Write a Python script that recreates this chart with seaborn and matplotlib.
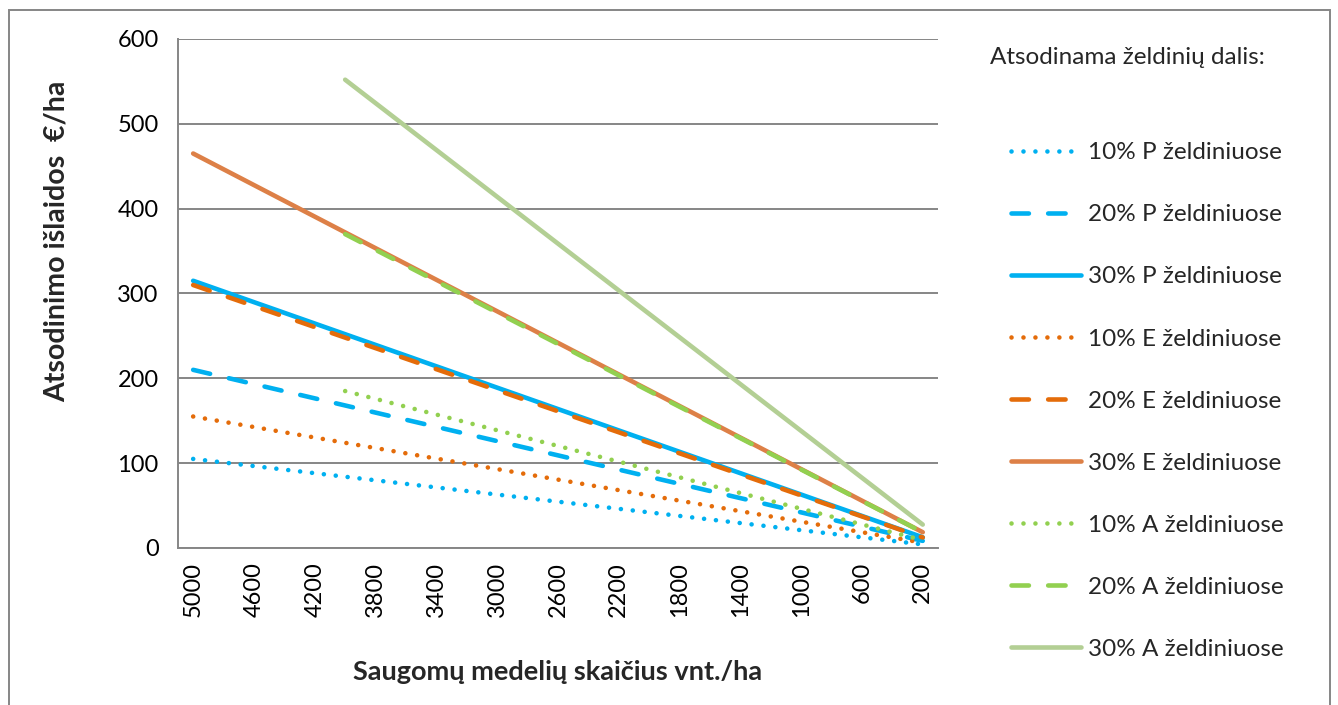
import numpy as np
import pandas as pd
import matplotlib
matplotlib.use("Agg")
import matplotlib.pyplot as plt
from matplotlib.patches import Rectangle
import seaborn as sns

# --- data ---
trees = [5000, 4800, 4600, 4400, 4200, 4000, 3800, 3600, 3400, 3200, 3000, 2800, 2600,
         2400, 2200, 2000, 1800, 1600, 1400, 1200, 1000, 800, 600, 400, 200]
tick_labels = [str(t) for t in trees[::2]]

p10 = [105, 100.8, 96.6, 92.4, 88.2, 84, 79.8, 75.6, 71.4, 67.2, 63, 58.8, 54.6,
       50.4, 46.2, 42, 37.8, 33.6, 29.4, 25.2, 21, 16.8, 12.6, 8.4, 4.2]
p20 = [210, 201.6, 193.2, 184.8, 176.4, 168, 159.6, 151.2, 142.8, 134.4, 126, 117.6, 109.2,
       100.8, 92.4, 84, 75.6, 67.2, 58.8, 50.4, 42, 33.6, 25.2, 16.8, 8.4]
p30 = [315, 302.4, 289.8, 277.2, 264.6, 252, 239.4, 226.8, 214.2, 201.6, 189, 176.4, 163.8,
       151.2, 138.6, 126, 113.4, 100.8, 88.2, 75.6, 63, 50.4, 37.8, 25.2, 12.6]
e10 = [155, 148.8, 142.6, 136.4, 130.2, 124, 117.8, 111.6, 105.4, 99.2, 93, 86.8, 80.6,
       74.4, 68.2, 62, 55.8, 49.6, 43.4, 37.2, 31, 24.8, 18.6, 12.4, 6.2]
e20 = [310, 297.6, 285.2, 272.8, 260.4, 248, 235.6, 223.2, 210.8, 198.4, 186, 173.6, 161.2,
       148.8, 136.4, 124, 111.6, 99.2, 86.8, 74.4, 62, 49.6, 37.2, 24.8, 12.4]
e30 = [465, 446.4, 427.8, 409.2, 390.6, 372, 353.4, 334.8, 316.2, 297.6, 279, 260.4, 241.8,
       223.2, 204.6, 186, 167.4, 148.8, 130.2, 111.6, 93, 74.4, 55.8, 37.2, 18.6]
# A series start at 4000 trees/ha
a10 = [None] * 5 + [185, 175.8, 166.5, 157.3, 148, 138.8, 129.5, 120.3, 111, 101.8,
                    92.5, 83.3, 74, 64.8, 55.5, 46.3, 37, 27.8, 18.5, 9.3]
a20 = [None] * 5 + [370, 351.5, 333, 314.5, 296, 277.5, 259, 240.5, 222, 203.5,
                    185, 166.5, 148, 129.5, 111, 92.5, 74, 55.5, 37, 18.5]
a30 = [None] * 5 + [552, 524.4, 496.8, 469.2, 441.6, 414, 386.4, 358.8, 331.2, 303.6,
                    276, 248.4, 220.8, 193.2, 165.6, 138, 110.4, 82.8, 55.2, 27.6]

series_names = ["10% P želdiniuose", "20% P želdiniuose", "30% P želdiniuose",
                "10% E želdiniuose", "20% E želdiniuose", "30% E želdiniuose",
                "10% A želdiniuose", "20% A želdiniuose", "30% A želdiniuose"]
series_values = [p10, p20, p30, e10, e20, e30, a10, a20, a30]
series_colors = ["#00B0F0", "#00B0F0", "#00B0F0",
                 "#E46C0A", "#E46C0A", "#DD8047",
                 "#92D050", "#92D050", "#B3CF94"]

# --- style ---
sns.set_style("white")
plt.rcParams['font.family'] = ['Lato', 'DejaVu Sans']

dotted = (0, (0.01, 2.6))
dashed = (0, (3.8, 4.2))
styles = [dotted, dashed, '-'] * 3

fig = plt.figure(figsize=(13.38, 7.05), dpi=100)
ax = fig.add_axes([0.133, 0.2227, 0.568, 0.722])

x = np.arange(len(trees))
for name, vals, col, ls in zip(series_names, series_values, series_colors, styles):
    y = pd.Series(vals, dtype=float)
    sns.lineplot(x=x, y=y, ax=ax, color=col, linewidth=3.3, linestyle=ls,
                 dash_capstyle='round', solid_capstyle='round', label=name)

grey = "#868686"
ax.set_xlim(-0.5, len(trees) - 0.5)
ax.set_ylim(0, 600)
ax.set_yticks(range(0, 601, 100))
ax.yaxis.grid(True, color=grey, linewidth=1.4)
ax.xaxis.grid(False)
ax.set_axisbelow(True)

ax.set_xticks(x[::2])
ax.set_xticklabels(tick_labels, rotation=90)
ax.set_xticks(np.arange(-0.5, len(trees)), minor=True)
ax.tick_params(axis='x', which='major', length=0, labelsize=17, pad=10, colors='black')
ax.tick_params(axis='x', which='minor', length=6, width=1.4, color=grey, direction='out')
ax.tick_params(axis='y', which='major', length=6, width=1.4, color=grey, direction='out',
               labelsize=17, pad=8, labelcolor='black')

for side in ['top', 'right']:
    ax.spines[side].set_visible(False)
for side in ['left', 'bottom']:
    ax.spines[side].set_color(grey)
    ax.spines[side].set_linewidth(1.4)

ax.set_xlabel("Saugomų medelių skaičius vnt./ha", fontsize=19.5, fontweight='bold', labelpad=31)
ax.set_ylabel("Atsodinimo išlaidos  €/ha", fontsize=20.5, fontweight='bold')
ax.yaxis.set_label_coords(-0.142, 0.603)

fig.text(0.740, 0.918, "Atsodinama želdinių dalis:", fontsize=17.5, va='center', ha='left')
leg = ax.legend(loc='upper left', bbox_to_anchor=(0.748, 0.812), bbox_transform=fig.transFigure,
                frameon=False, fontsize=17.5, handlelength=2.9, handletextpad=0.3,
                labelspacing=1.69, borderaxespad=0)

# outer chart border
fig.patches.append(Rectangle((0.0067, -0.01), 0.9873, 0.996, transform=fig.transFigure,
                             fill=False, edgecolor=grey, linewidth=1.4))

fig.savefig("out.png", dpi=100)
